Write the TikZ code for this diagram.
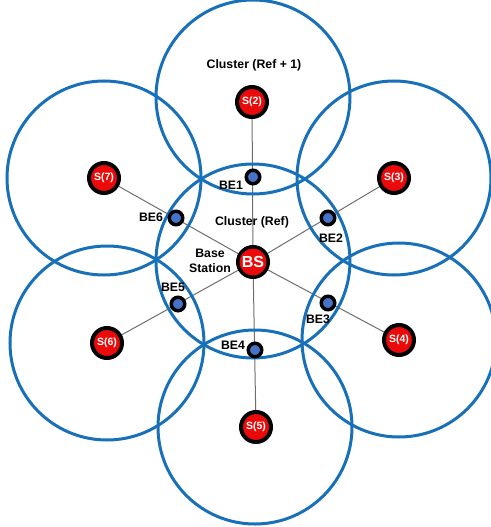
\documentclass[tikz,border=0pt]{standalone}
\usepackage{fontspec}
\setmainfont{Liberation Sans}
\usetikzlibrary{backgrounds}
\definecolor{ringblue}{RGB}{24,112,184}
\definecolor{sred}{RGB}{235,10,10}
\definecolor{beblue}{RGB}{70,115,200}
\definecolor{linkgray}{RGB}{110,110,110}
\tikzset{
  cell/.style={draw=ringblue, line width=3pt},
  snode/.style={circle, fill=sred, draw=black, line width=4pt, minimum size=30pt, inner sep=0pt,
    text=white, font=\fontsize{10.5}{11}\selectfont\bfseries},
  bsnode/.style={circle, fill=sred, draw=black, line width=3.5pt, minimum size=30.5pt, inner sep=0pt,
    text=white, font=\fontsize{16}{16}\selectfont\bfseries},
  benode/.style={circle, fill=beblue, draw=black, line width=3.5pt, minimum size=13.5pt, inner sep=0pt},
  lbl/.style={inner sep=0pt, text=black, font=\fontsize{12.3}{14.5}\selectfont\bfseries, align=center},
  link/.style={draw=linkgray, line width=1pt},
}
\begin{document}
\begin{tikzpicture}[x=1pt, y=-1pt]
\useasboundingbox (0,0) rectangle (490,527);
% cells
\coordinate (c1) at (253,97);
\coordinate (c0) at (253,261);
\coordinate (c3) at (394,178);
\coordinate (c4) at (399,340);
\coordinate (c5) at (255,427);
\coordinate (c6) at (107,343);
\coordinate (c7) at (104,178);
\foreach \c in {c0,c1,c3,c4,c5,c6,c7} \draw[cell] (\c) circle[radius=97pt];
% nodes
\node[bsnode] (bs) at (253,262) {BS};
\node[snode] (s2) at (252,102) {S(2)};
\node[snode] (s3) at (394,178) {S(3)};
\node[snode] (s4) at (399,340) {S(4)};
\node[snode] (s5) at (256,427) {S(5)};
\node[snode] (s6) at (107,343) {S(6)};
\node[snode] (s7) at (104,178) {S(7)};
\node[benode] (be1) at (253,177) {};
\node[benode] (be2) at (328,218) {};
\node[benode] (be3) at (328,303) {};
\node[benode] (be4) at (255,350) {};
\node[benode] (be5) at (178,304) {};
\node[benode] (be6) at (176,218) {};
% labels
\node[lbl] (l1) at (231,185) {BE1};
\node[lbl] (l2) at (331,238) {BE2};
\node[lbl] (l3) at (318,319) {BE3};
\node[lbl] (l4) at (233,345) {BE4};
\node[lbl] (l5) at (173,287) {BE5};
\node[lbl] (l6) at (151,217) {BE6};
\node[lbl] (cref) at (252,222) {Cluster (Ref)};
\node[lbl] (cref1) at (254,65) {Cluster (Ref + 1)};
\node[lbl] (base) at (210,261) {Base\\Station};
% links
\begin{scope}[on background layer]
\draw[link] (bs) -- (s2);
\draw[link] (bs) -- (s3);
\draw[link] (bs) -- (s4);
\draw[link] (bs) -- (s5);
\draw[link] (bs) -- (s6);
\draw[link] (bs) -- (s7);
\end{scope}
\end{tikzpicture}
\end{document}
